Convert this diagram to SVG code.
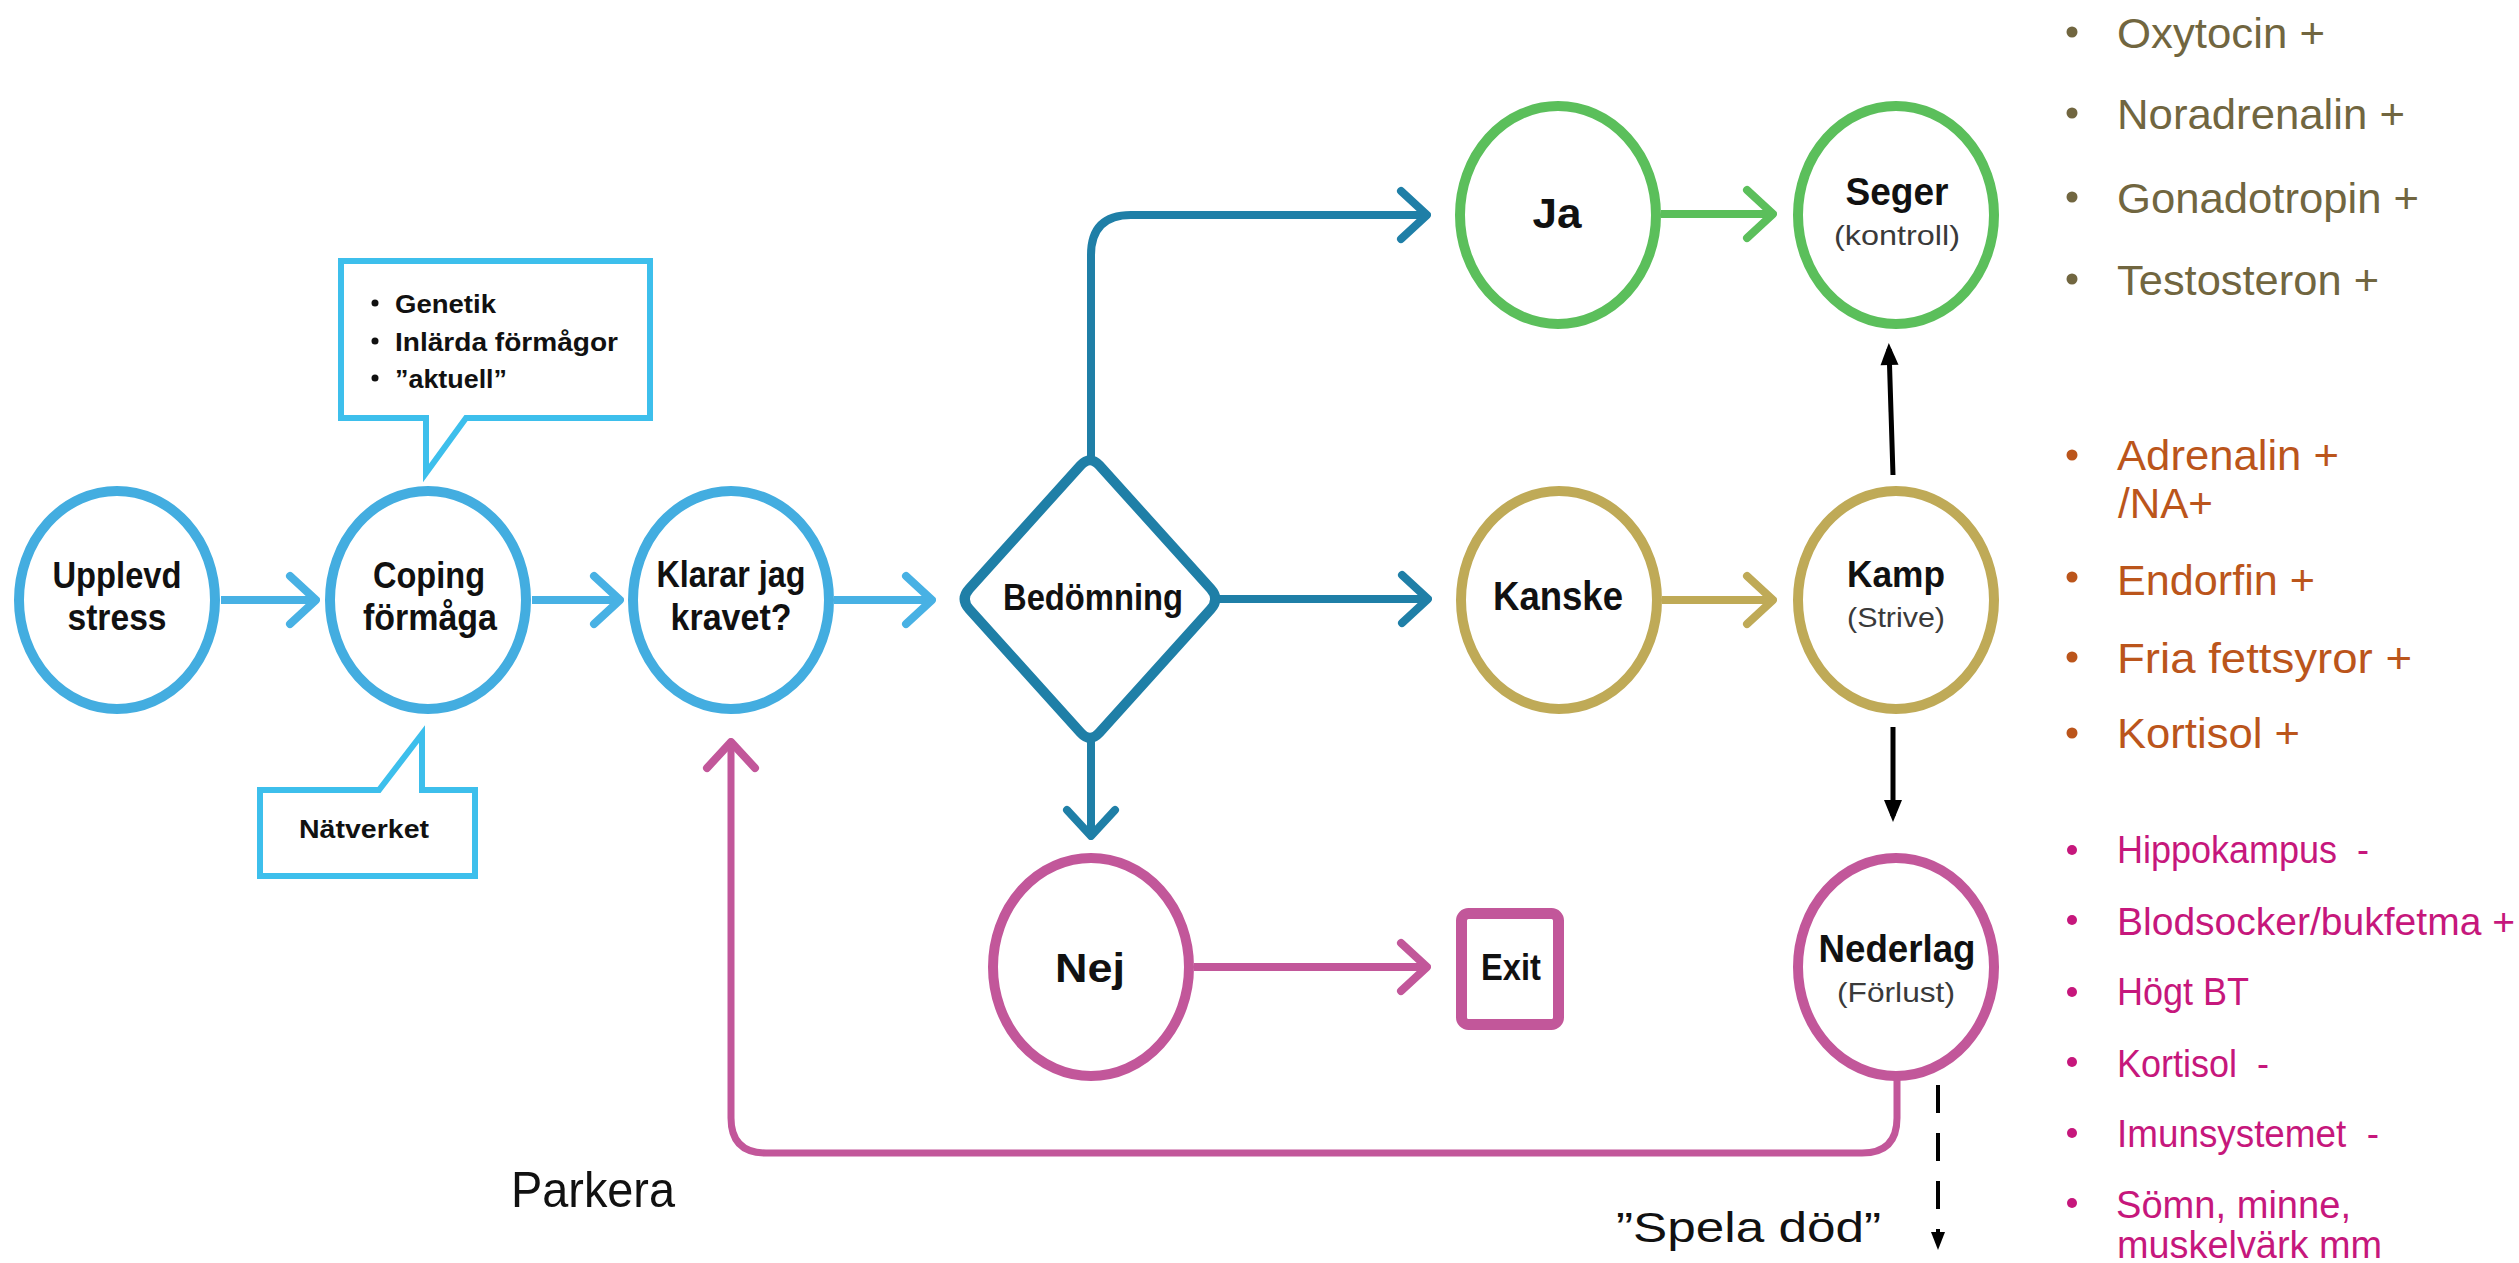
<svg xmlns="http://www.w3.org/2000/svg" width="2519" height="1263" viewBox="0 0 2519 1263">
<style>
  .bg { fill: #ffffff; }
  .circ { fill: #ffffff; stroke-width: 10; }
  .c-lb { stroke: #43ade0; }
  .c-g { stroke: #5bbf5b; }
  .c-k { stroke: #bfaa57; }
  .c-p { stroke: #c2579a; }
  .lbl { font-family: "Liberation Sans", Arial, sans-serif; font-weight: 700; fill: #111111; text-anchor: middle; }
  .sub { font-family: "Liberation Sans", Arial, sans-serif; font-weight: 400; fill: #3a3a3a; text-anchor: middle; }
  .call { fill: #ffffff; stroke: #3dbfec; stroke-width: 6; stroke-linejoin: miter; }
  .calltxt { font-family: "Liberation Sans", Arial, sans-serif; font-weight: 700; fill: #111111; font-size: 25px; }
  .conn { fill: none; stroke-width: 8; stroke-linecap: butt; stroke-linejoin: round; }
  .s-lb { stroke: #48b1e4; }
  .s-db { stroke: #1f7fa7; }
  .s-g { stroke: #5bbf5b; }
  .s-k { stroke: #bfaa57; }
  .s-p { stroke: #c2579a; }
  .s-bk { stroke: #000000; stroke-width: 5; }
  .list { font-family: "Liberation Sans", Arial, sans-serif; font-weight: 400; white-space: pre; }
  .l1 { fill: #716640; font-size: 43px; }
  .l2 { fill: #bb551b; font-size: 43px; }
  .l3 { fill: #c6177c; font-size: 38px; }
  .free { font-family: "Liberation Sans", Arial, sans-serif; font-weight: 400; fill: #111111; }
</style>
<defs>
  <marker id="chev-lb" markerUnits="userSpaceOnUse" viewBox="-32 -30 36 60" refX="0" refY="0" markerWidth="36" markerHeight="60" orient="auto">
    <path d="M-26,-24 L0,0 L-26,24" fill="none" stroke="#48b1e4" stroke-width="8" stroke-linecap="round" stroke-linejoin="round"/>
  </marker>
  <marker id="chev-db" markerUnits="userSpaceOnUse" viewBox="-32 -30 36 60" refX="0" refY="0" markerWidth="36" markerHeight="60" orient="auto">
    <path d="M-26,-24 L0,0 L-26,24" fill="none" stroke="#1f7fa7" stroke-width="8" stroke-linecap="round" stroke-linejoin="round"/>
  </marker>
  <marker id="chev-g" markerUnits="userSpaceOnUse" viewBox="-32 -30 36 60" refX="0" refY="0" markerWidth="36" markerHeight="60" orient="auto">
    <path d="M-26,-24 L0,0 L-26,24" fill="none" stroke="#5bbf5b" stroke-width="8" stroke-linecap="round" stroke-linejoin="round"/>
  </marker>
  <marker id="chev-k" markerUnits="userSpaceOnUse" viewBox="-32 -30 36 60" refX="0" refY="0" markerWidth="36" markerHeight="60" orient="auto">
    <path d="M-26,-24 L0,0 L-26,24" fill="none" stroke="#bfaa57" stroke-width="8" stroke-linecap="round" stroke-linejoin="round"/>
  </marker>
  <marker id="chev-p" markerUnits="userSpaceOnUse" viewBox="-32 -30 36 60" refX="0" refY="0" markerWidth="36" markerHeight="60" orient="auto">
    <path d="M-26,-24 L0,0 L-26,24" fill="none" stroke="#c2579a" stroke-width="8" stroke-linecap="round" stroke-linejoin="round"/>
  </marker>
  <marker id="tri-bk" markerUnits="userSpaceOnUse" viewBox="-20 -12 30 24" refX="0" refY="0" markerWidth="30" markerHeight="24" orient="auto">
    <path d="M-16,-9 L6,0 L-16,9 Z" fill="#000000"/>
  </marker>
  <marker id="tri-bk-s" markerUnits="userSpaceOnUse" viewBox="-16 -10 24 20" refX="0" refY="0" markerWidth="24" markerHeight="20" orient="auto">
    <path d="M-12,-7 L6,0 L-12,7 Z" fill="#000000"/>
  </marker>
</defs>
<rect class="bg" x="0" y="0" width="2519" height="1263"/>

<g id="connectors">
  <path class="conn s-lb" d="M221,600 H316" marker-end="url(#chev-lb)"/>
  <path class="conn s-lb" d="M532,600 H620" marker-end="url(#chev-lb)"/>
  <path class="conn s-lb" d="M834,600 H932" marker-end="url(#chev-lb)"/>
  <path class="conn s-db" d="M1091,460 V255 Q1091,215 1131,215 H1427" marker-end="url(#chev-db)"/>
  <path class="conn s-db" d="M1215,599 H1428" marker-end="url(#chev-db)"/>
  <path class="conn s-db" d="M1091,738 V836" marker-end="url(#chev-db)"/>
  <path class="conn s-g" d="M1661,214 H1773" marker-end="url(#chev-g)"/>
  <path class="conn s-k" d="M1662,600 H1773" marker-end="url(#chev-k)"/>
  <path class="conn s-p" d="M1194,967 H1427" marker-end="url(#chev-p)"/>
  <path class="conn s-bk" d="M1893,475 L1889,349" marker-end="url(#tri-bk)"/>
  <path class="conn s-bk" d="M1893,727 L1893,816" marker-end="url(#tri-bk)"/>
  <path class="conn s-p" style="stroke-width:7" d="M1897,1080 V1118 Q1897,1153 1862,1153 H766 Q731,1153 731,1118 V742" marker-end="url(#chev-p)"/>
  <path class="conn s-bk" style="stroke-width:4" stroke-dasharray="28 20" d="M1938,1085 V1244" marker-end="url(#tri-bk-s)"/>
</g>

<g id="callout-top">
  <path class="call" d="M341,261 H650 V418 H466 L426,473 V418 H341 Z"/>
  <circle cx="375" cy="303" r="3.5" fill="#111"/>
  <circle cx="375" cy="341" r="3.5" fill="#111"/>
  <circle cx="375" cy="378" r="3.5" fill="#111"/>
  <text class="calltxt" x="395" y="313" textLength="101" lengthAdjust="spacingAndGlyphs">Genetik</text>
  <text class="calltxt" x="395" y="351" textLength="223" lengthAdjust="spacingAndGlyphs">Inlärda förmågor</text>
  <text class="calltxt" x="395" y="388" textLength="112" lengthAdjust="spacingAndGlyphs">”aktuell”</text>
</g>

<g id="callout-bottom">
  <path class="call" d="M260,790 H379 L422,734 V790 H475 V876 H260 Z"/>
  <text class="calltxt" x="364" y="838" text-anchor="middle" textLength="130" lengthAdjust="spacingAndGlyphs">Nätverket</text>
</g>

<g id="n-upplevd">
  <ellipse class="circ c-lb" cx="117" cy="600" rx="98" ry="109"/>
  <text class="lbl" x="117" y="588" font-size="37" textLength="129" lengthAdjust="spacingAndGlyphs">Upplevd</text>
  <text class="lbl" x="117" y="630" font-size="37" textLength="99" lengthAdjust="spacingAndGlyphs">stress</text>
</g>

<g id="n-coping">
  <ellipse class="circ c-lb" cx="428" cy="600" rx="98" ry="109"/>
  <text class="lbl" x="429" y="588" font-size="37" textLength="112" lengthAdjust="spacingAndGlyphs">Coping</text>
  <text class="lbl" x="430" y="630" font-size="37" textLength="134" lengthAdjust="spacingAndGlyphs">förmåga</text>
</g>

<g id="n-klarar">
  <ellipse class="circ c-lb" cx="731" cy="600" rx="98" ry="109"/>
  <text class="lbl" x="731" y="587" font-size="37" textLength="149" lengthAdjust="spacingAndGlyphs">Klarar jag</text>
  <text class="lbl" x="731" y="630" font-size="37" textLength="121" lengthAdjust="spacingAndGlyphs">kravet?</text>
</g>

<g id="n-bedomning">
  <path d="M1080.6,465.4 Q1090,455 1099.4,465.4 L1210.6,588.6 Q1220,599 1210.6,609.4 L1099.4,732.6 Q1090,743 1080.6,732.6 L969.4,609.4 Q960,599 969.4,588.6 Z" fill="#ffffff" stroke="#1f7fa7" stroke-width="10" stroke-linejoin="round"/>
  <text class="lbl" x="1093" y="610" font-size="37" textLength="180" lengthAdjust="spacingAndGlyphs">Bedömning</text>
</g>

<g id="n-ja">
  <ellipse class="circ c-g" cx="1558" cy="215" rx="98" ry="109"/>
  <text class="lbl" x="1557" y="228" font-size="42" textLength="49" lengthAdjust="spacingAndGlyphs">Ja</text>
</g>

<g id="n-seger">
  <ellipse class="circ c-g" cx="1896" cy="215" rx="98" ry="109"/>
  <text class="lbl" x="1897" y="205" font-size="38" textLength="103" lengthAdjust="spacingAndGlyphs">Seger</text>
  <text class="sub" x="1897" y="245" font-size="28" textLength="126" lengthAdjust="spacingAndGlyphs">(kontroll)</text>
</g>

<g id="n-kanske">
  <ellipse class="circ c-k" cx="1559" cy="600" rx="98" ry="109"/>
  <text class="lbl" x="1558" y="610" font-size="41" textLength="130" lengthAdjust="spacingAndGlyphs">Kanske</text>
</g>

<g id="n-kamp">
  <ellipse class="circ c-k" cx="1896" cy="600" rx="98" ry="109"/>
  <text class="lbl" x="1896" y="587" font-size="37" textLength="98" lengthAdjust="spacingAndGlyphs">Kamp</text>
  <text class="sub" x="1896" y="627" font-size="28" textLength="98" lengthAdjust="spacingAndGlyphs">(Strive)</text>
</g>

<g id="n-nej">
  <ellipse class="circ c-p" cx="1091" cy="967" rx="98" ry="109"/>
  <text class="lbl" x="1090" y="982" font-size="41" textLength="70" lengthAdjust="spacingAndGlyphs">Nej</text>
</g>

<g id="n-exit">
  <rect x="1461.5" y="913.5" width="97" height="111" rx="7" fill="#ffffff" stroke="#c2579a" stroke-width="11"/>
  <text class="lbl" x="1511" y="980" font-size="36" textLength="60" lengthAdjust="spacingAndGlyphs">Exit</text>
</g>

<g id="n-nederlag">
  <ellipse class="circ c-p" cx="1896" cy="967" rx="98" ry="109"/>
  <text class="lbl" x="1897" y="962" font-size="38" textLength="157" lengthAdjust="spacingAndGlyphs">Nederlag</text>
  <text class="sub" x="1896" y="1002" font-size="28" textLength="118" lengthAdjust="spacingAndGlyphs">(Förlust)</text>
</g>

<g id="label-parkera">
  <text class="free" x="511" y="1207" font-size="50" textLength="164" lengthAdjust="spacingAndGlyphs">Parkera</text>
</g>
<g id="label-spela">
  <text class="free" x="1616" y="1242" font-size="42" textLength="265" lengthAdjust="spacingAndGlyphs">”Spela död”</text>
</g>

<g id="list-seger">
  <circle cx="2072" cy="32" r="5.5" fill="#716640"/>
  <circle cx="2072" cy="113" r="5.5" fill="#716640"/>
  <circle cx="2072" cy="197" r="5.5" fill="#716640"/>
  <circle cx="2072" cy="279" r="5.5" fill="#716640"/>
  <text class="list l1" x="2117" y="48" textLength="208" lengthAdjust="spacingAndGlyphs">Oxytocin +</text>
  <text class="list l1" x="2117" y="129" textLength="288" lengthAdjust="spacingAndGlyphs">Noradrenalin +</text>
  <text class="list l1" x="2117" y="213" textLength="302" lengthAdjust="spacingAndGlyphs">Gonadotropin +</text>
  <text class="list l1" x="2117" y="295" textLength="262" lengthAdjust="spacingAndGlyphs">Testosteron +</text>
</g>

<g id="list-kamp">
  <circle cx="2072" cy="455" r="5.5" fill="#bb551b"/>
  <circle cx="2072" cy="577" r="5.5" fill="#bb551b"/>
  <circle cx="2072" cy="657" r="5.5" fill="#bb551b"/>
  <circle cx="2072" cy="733" r="5.5" fill="#bb551b"/>
  <text class="list l2" x="2117" y="470" textLength="222" lengthAdjust="spacingAndGlyphs">Adrenalin +</text>
  <text class="list l2" x="2118" y="518" textLength="95" lengthAdjust="spacingAndGlyphs">/NA+</text>
  <text class="list l2" x="2117" y="595" textLength="198" lengthAdjust="spacingAndGlyphs">Endorfin +</text>
  <text class="list l2" x="2117" y="673" textLength="295" lengthAdjust="spacingAndGlyphs">Fria fettsyror +</text>
  <text class="list l2" x="2117" y="748" textLength="183" lengthAdjust="spacingAndGlyphs">Kortisol +</text>
</g>

<g id="list-nederlag">
  <circle cx="2072" cy="850" r="5" fill="#c6177c"/>
  <circle cx="2072" cy="920" r="5" fill="#c6177c"/>
  <circle cx="2072" cy="992" r="5" fill="#c6177c"/>
  <circle cx="2072" cy="1062" r="5" fill="#c6177c"/>
  <circle cx="2072" cy="1133" r="5" fill="#c6177c"/>
  <circle cx="2072" cy="1203" r="5" fill="#c6177c"/>
  <text class="list l3" x="2117" y="863" textLength="252" lengthAdjust="spacingAndGlyphs">Hippokampus  -</text>
  <text class="list l3" x="2117" y="935" textLength="398" lengthAdjust="spacingAndGlyphs">Blodsocker/bukfetma +</text>
  <text class="list l3" x="2117" y="1005" textLength="132" lengthAdjust="spacingAndGlyphs">Högt BT</text>
  <text class="list l3" x="2117" y="1077" textLength="152" lengthAdjust="spacingAndGlyphs">Kortisol  -</text>
  <text class="list l3" x="2117" y="1147" textLength="262" lengthAdjust="spacingAndGlyphs">Imunsystemet  -</text>
  <text class="list l3" x="2116" y="1218" textLength="235" lengthAdjust="spacingAndGlyphs">Sömn, minne,</text>
  <text class="list l3" x="2117" y="1258" textLength="265" lengthAdjust="spacingAndGlyphs">muskelvärk mm</text>
</g>
</svg>
